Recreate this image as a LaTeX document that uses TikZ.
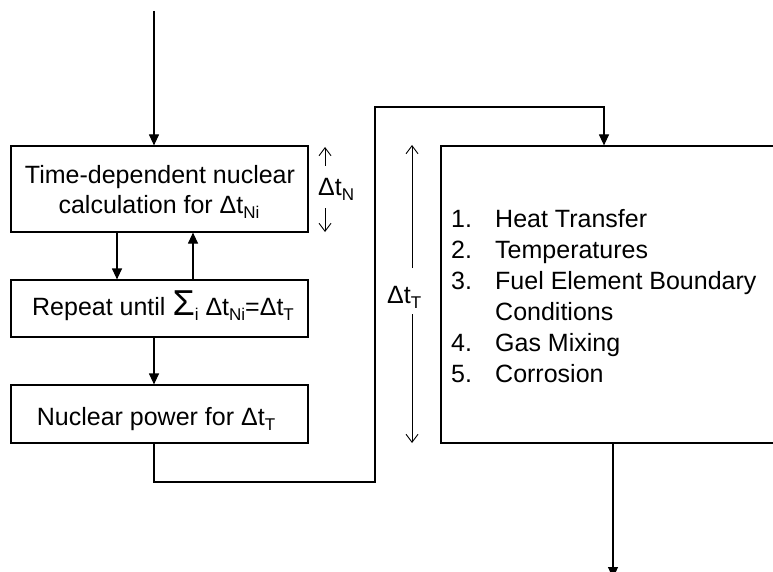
\documentclass[tikz,border=0pt]{standalone}
\usepackage{fontspec}
\setmainfont{Liberation Sans}
\usetikzlibrary{arrows.meta}
\newcommand\sbs[1]{\raisebox{-0.22em}{\fontsize{17}{17}\selectfont #1}}
\begin{document}
\begin{tikzpicture}[x=1pt,y=-1pt,
  font=\fontsize{25}{31}\selectfont,
  box/.style={draw, line width=1.2pt, inner sep=0pt},
  txt/.style={inner sep=0pt, anchor=base},
  ltxt/.style={inner sep=0pt, anchor=base west},
  arr/.style={line width=1.2pt, -{Triangle[length=11pt,width=10pt]}},
  darr/.style={line width=0.9pt, -{Straight Barb[length=8pt,width=12pt]}}]
\useasboundingbox (0,0) rectangle (773,572);
% boxes
\node[box, minimum width=297pt, minimum height=86pt] (b1) at (159.5,189) {};
\node[box, minimum width=297pt, minimum height=57pt] (b2) at (159.5,308.5) {};
\node[box, minimum width=297pt, minimum height=58pt] (b3) at (159.5,414) {};
\node[box, minimum width=400pt, minimum height=297pt] (b4) at (641,294.5) {};
% texts
\node[txt] (t1a) at (160,183) {Time-dependent nuclear};
\node[txt] (t1b) at (159,213) {calculation for Δt\sbs{Ni}};
\node[txt] (t2) at (163,315) {Repeat until {\fontsize{36}{36}\selectfont Σ}\sbs{i} Δt\sbs{Ni}=Δt\sbs{T}};
\node[txt] (t3) at (156,425) {Nuclear power for Δt\sbs{T}};
% list
\node[ltxt] (n1) at (451,227) {1.};
\node[ltxt] (l1) at (495,227) {Heat Transfer};
\node[ltxt] (n2) at (451,258) {2.};
\node[ltxt] (l2) at (495,258) {Temperatures};
\node[ltxt] (n3) at (451,289) {3.};
\node[ltxt] (l3) at (495,289) {Fuel Element Boundary};
\node[ltxt] (l3b) at (495,320) {Conditions};
\node[ltxt] (n4) at (451,351) {4.};
\node[ltxt] (l4) at (495,351) {Gas Mixing};
\node[ltxt] (n5) at (451,382) {5.};
\node[ltxt] (l5) at (495,382) {Corrosion};
% delta labels
\node[ltxt] (dN) at (318,195) {Δt\sbs{N}};
\node[ltxt] (dT) at (387,303) {Δt\sbs{T}};
\coordinate (dNa) at (325,166); \coordinate (dNb) at (325,147);
\coordinate (dNc) at (325,208); \coordinate (dNd) at (325,232);
\coordinate (dTa) at (412,268); \coordinate (dTb) at (412,145);
\coordinate (dTc) at (412,314); \coordinate (dTd) at (412,443);
\draw[darr] (dNa) -- (dNb);
\draw[darr] (dNc) -- (dNd);
\draw[darr] (dTa) -- (dTb);
\draw[darr] (dTc) -- (dTd);
% connectors
\coordinate (in) at (154,11);
\coordinate (dx) at (117,0);
\coordinate (ux) at (193,0);
\coordinate (c1) at (375,482);
\coordinate (c2) at (375,107);
\coordinate (c3) at (604,107);
\coordinate (out) at (613,578);
\draw[arr] (in) -- (in |- b1.north);
\draw[arr] (b1.south -| dx) -- (b2.north -| dx);
\draw[arr] (b2.north -| ux) -- (b1.south -| ux);
\draw[arr] (b2.south -| in) -- (b3.north -| in);
\draw[arr] (b3.south -| in) |- (c1) -- (c2) -- (c3) -- (c3 |- b4.north);
\draw[arr] (out |- b4.south) -- (out);
\end{tikzpicture}
\end{document}
